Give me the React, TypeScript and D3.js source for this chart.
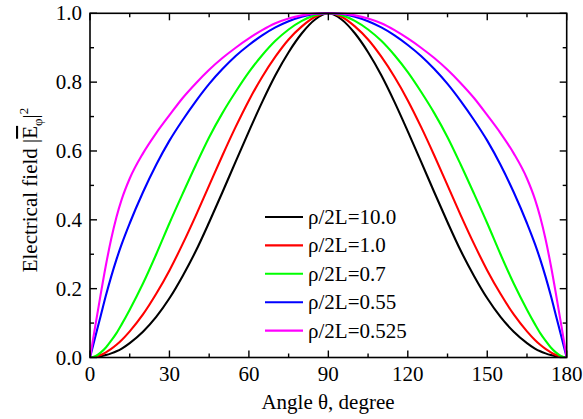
import React from "react";
import * as d3 from "d3";

const angles = [0, 2, 4, 6, 8, 10, 12, 15, 20, 25, 30, 35, 40, 45, 50, 55, 60, 65, 70, 75, 80, 85, 90,
  95, 100, 105, 110, 115, 120, 125, 130, 135, 140, 145, 150, 155, 160, 165, 168, 170, 172, 174, 176, 178, 180];

const black10 = [0, 0.001, 0.003, 0.007, 0.012, 0.018, 0.026, 0.042, 0.075, 0.118, 0.172, 0.237, 0.31, 0.393, 0.48, 0.569, 0.657, 0.742, 0.82, 0.887, 0.942, 0.982, 1,
  0.982, 0.942, 0.887, 0.82, 0.742, 0.657, 0.569, 0.48, 0.393, 0.31, 0.237, 0.172, 0.118, 0.075, 0.042, 0.026, 0.018, 0.012, 0.007, 0.003, 0.001, 0];
const red1 = [0, 0.002, 0.007, 0.015, 0.025, 0.037, 0.051, 0.076, 0.125, 0.185, 0.253, 0.33, 0.413, 0.5, 0.587, 0.67, 0.747, 0.815, 0.874, 0.924, 0.962, 0.99, 1,
  0.99, 0.962, 0.924, 0.874, 0.815, 0.747, 0.67, 0.587, 0.5, 0.413, 0.33, 0.253, 0.185, 0.125, 0.076, 0.051, 0.037, 0.025, 0.015, 0.007, 0.002, 0];
const green07 = [0, 0.0035, 0.014, 0.029, 0.049, 0.071, 0.097, 0.139, 0.215, 0.3, 0.39, 0.476, 0.56, 0.64, 0.71, 0.772, 0.829, 0.878, 0.92, 0.953, 0.978, 0.994, 1,
  0.994, 0.978, 0.953, 0.92, 0.878, 0.829, 0.772, 0.71, 0.64, 0.56, 0.476, 0.39, 0.3, 0.215, 0.139, 0.097, 0.071, 0.049, 0.029, 0.014, 0.0035, 0];
const blue055 = [0, 0.06, 0.12, 0.18, 0.235, 0.285, 0.33, 0.39, 0.48, 0.56, 0.63, 0.69, 0.745, 0.795, 0.838, 0.876, 0.908, 0.936, 0.959, 0.977, 0.99, 0.998, 1,
  0.998, 0.99, 0.977, 0.959, 0.936, 0.908, 0.876, 0.838, 0.795, 0.745, 0.69, 0.63, 0.56, 0.48, 0.39, 0.33, 0.285, 0.235, 0.18, 0.12, 0.06, 0];
const magenta0525 = [0, 0.092, 0.182, 0.268, 0.344, 0.408, 0.46, 0.52, 0.593, 0.652, 0.704, 0.754, 0.797, 0.836, 0.87, 0.9, 0.927, 0.951, 0.971, 0.985, 0.994, 0.999, 1,
  0.999, 0.994, 0.985, 0.971, 0.951, 0.927, 0.9, 0.87, 0.836, 0.797, 0.754, 0.704, 0.652, 0.593, 0.52, 0.46, 0.408, 0.344, 0.268, 0.182, 0.092, 0];

const seriesNames = ["ρ/2L=10.0", "ρ/2L=1.0", "ρ/2L=0.7", "ρ/2L=0.55", "ρ/2L=0.525"];
const seriesValues = [black10, red1, green07, blue055, magenta0525];
const seriesColors = ["#000000", "#ff0000", "#00ff00", "#0000ff", "#ff00ff"];

const xTicks = [0, 30, 60, 90, 120, 150, 180];
const xMinor = [15, 45, 75, 105, 135, 165];
const yTicks = [0, 0.2, 0.4, 0.6, 0.8, 1.0];
const yMinor = [0.1, 0.3, 0.5, 0.7, 0.9];

export default function App() {
  const W = 583, H = 419;
  const left = 90, right = 566.7, top = 13.3, bottom = 357.5;
  const x = d3.scaleLinear().domain([0, 180]).range([left, right]);
  const y = d3.scaleLinear().domain([0, 1]).range([bottom, top]);
  const line = d3.line<[number, number]>()
    .x(d => x(d[0]))
    .y(d => y(d[1]))
    .curve(d3.curveMonotoneX);
  const font = "'Liberation Serif', 'Times New Roman', serif";
  const majorLen = 7, minorLen = 4;

  const legendX1 = 265, legendX2 = 303, legendTextX = 308;
  const legendY0 = 217, legendDy = 28.4;

  return (
    <svg width={W} height={H} style={{ position: "absolute", left: 0, top: 0 }} fontFamily={font}>
      <rect x={0} y={0} width={W} height={H} fill="#fff" />
      <defs>
        <clipPath id="plotclip">
          <rect x={left} y={top - 2} width={right - left} height={bottom - top + 2} />
        </clipPath>
      </defs>
      <g clipPath="url(#plotclip)">
        {seriesValues.map((vals, i) => (
          <path key={i}
            d={line(angles.map((a, j) => [a, vals[j]] as [number, number])) || ""}
            fill="none" stroke={seriesColors[i]} strokeWidth={2.1} strokeLinejoin="round" />
        ))}
      </g>
      <rect x={left} y={top} width={right - left} height={bottom - top} fill="none" stroke="#000" strokeWidth={1.6} />
      {xTicks.map(t => (
        <g key={"xt" + t}>
          <line x1={x(t)} x2={x(t)} y1={bottom} y2={bottom - majorLen} stroke="#000" strokeWidth={1.4} />
          <line x1={x(t)} x2={x(t)} y1={top} y2={top + majorLen} stroke="#000" strokeWidth={1.4} />
          <text x={x(t)} y={381} textAnchor="middle" fontSize={21}>{t}</text>
        </g>
      ))}
      {xMinor.map(t => (
        <g key={"xm" + t}>
          <line x1={x(t)} x2={x(t)} y1={bottom} y2={bottom - minorLen} stroke="#000" strokeWidth={1.4} />
          <line x1={x(t)} x2={x(t)} y1={top} y2={top + minorLen} stroke="#000" strokeWidth={1.4} />
        </g>
      ))}
      {yTicks.map(t => (
        <g key={"yt" + t}>
          <line x1={left} x2={left + majorLen} y1={y(t)} y2={y(t)} stroke="#000" strokeWidth={1.4} />
          <line x1={right} x2={right - majorLen} y1={y(t)} y2={y(t)} stroke="#000" strokeWidth={1.4} />
          <text x={82} y={y(t) + 7} textAnchor="end" fontSize={21}>{t.toFixed(1)}</text>
        </g>
      ))}
      {yMinor.map(t => (
        <g key={"ym" + t}>
          <line x1={left} x2={left + minorLen} y1={y(t)} y2={y(t)} stroke="#000" strokeWidth={1.4} />
          <line x1={right} x2={right - minorLen} y1={y(t)} y2={y(t)} stroke="#000" strokeWidth={1.4} />
        </g>
      ))}
      <text x={328} y={409} textAnchor="middle" fontSize={21}>Angle θ, degree</text>
      <text transform="translate(37,190) rotate(-90)" textAnchor="middle" fontSize={21}>
        Electrical field |<tspan textDecoration="overline" style={{ textDecoration: "overline" }}>E</tspan>
        <tspan fontSize={13} dy={5}>φ</tspan>
        <tspan dy={-5}>|</tspan>
        <tspan fontSize={13} dy={-9}>2</tspan>
      </text>
      {seriesNames.map((n, i) => (
        <g key={"lg" + i}>
          <line x1={legendX1} x2={legendX2} y1={legendY0 + i * legendDy} y2={legendY0 + i * legendDy}
            stroke={seriesColors[i]} strokeWidth={2.1} />
          <text x={legendTextX} y={legendY0 + i * legendDy + 7} fontSize={21}>{n}</text>
        </g>
      ))}
    </svg>
  );
}
